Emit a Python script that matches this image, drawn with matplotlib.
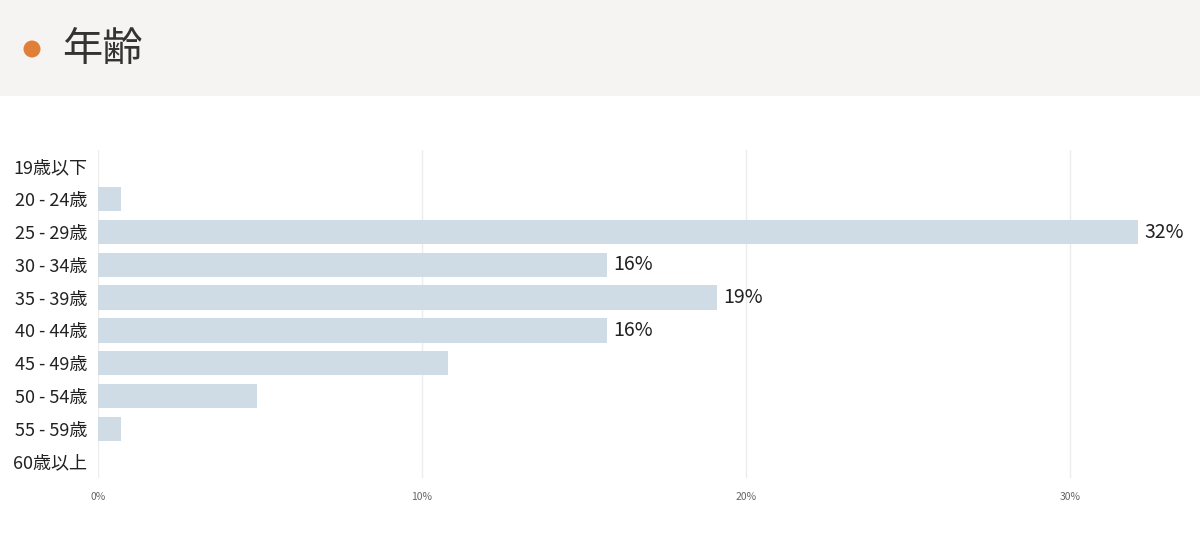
import matplotlib
matplotlib.use("Agg")
import matplotlib.pyplot as plt
from matplotlib.patches import Rectangle, Ellipse

plt.rcParams['font.family'] = ['Noto Sans CJK JP', 'DejaVu Sans']

categories = ["19歳以下", "20 - 24歳", "25 - 29歳", "30 - 34歳", "35 - 39歳",
              "40 - 44歳", "45 - 49歳", "50 - 54歳", "55 - 59歳", "60歳以上"]
values = [0, 0.7, 32.1, 15.7, 19.1, 15.7, 10.8, 4.9, 0.7, 0]
labels = ["", "", "32%", "16%", "19%", "16%", "", "", "", ""]
xticks = [0, 10, 20, 30]
xticklabels = ["0%", "10%", "20%", "30%"]

W, H = 1200, 544
fig = plt.figure(figsize=(12, 5.44), dpi=100)
fig.patch.set_facecolor("white")
fig.add_artist(Rectangle((0, 1 - 96 / H), 1, 96 / H, transform=fig.transFigure,
                         facecolor="#f5f4f2", edgecolor="none"))
fig.add_artist(Ellipse((32 / W, 1 - 49 / H), 17 / W, 17 / H, transform=fig.transFigure,
                       facecolor="#e07f38", edgecolor="none"))
fig.text(62 / W, 1 - 50 / H, "年齢", fontsize=29, color="#333333", va="center", ha="left")

ax = fig.add_axes([98 / W, 1 - 478 / H, (1180 - 98) / W, (478 - 150) / H])
y = list(range(len(categories)))
ax.barh(y, values, height=0.74, color="#cfdce5")
for yi, v, l in zip(y, values, labels):
    if l:
        ax.text(v + 0.2, yi, l, va="center", ha="left", fontsize=14, color="#222222")
ax.set_ylim(len(categories) - 0.5, -0.5)
ax.set_xlim(0, (1180 - 98) / 32.4)
ax.set_yticks(y)
ax.set_yticklabels(categories, fontsize=13, color="#222222")
ax.set_xticks(xticks)
ax.set_xticklabels(xticklabels, fontsize=7.5, color="#666666")
ax.tick_params(length=0, pad=10)
ax.tick_params(axis="y", pad=8)
ax.grid(axis="x", color="#ececec", linewidth=1)
ax.set_axisbelow(True)
for s in ax.spines.values():
    s.set_visible(False)
fig.savefig("out.png", dpi=100)
